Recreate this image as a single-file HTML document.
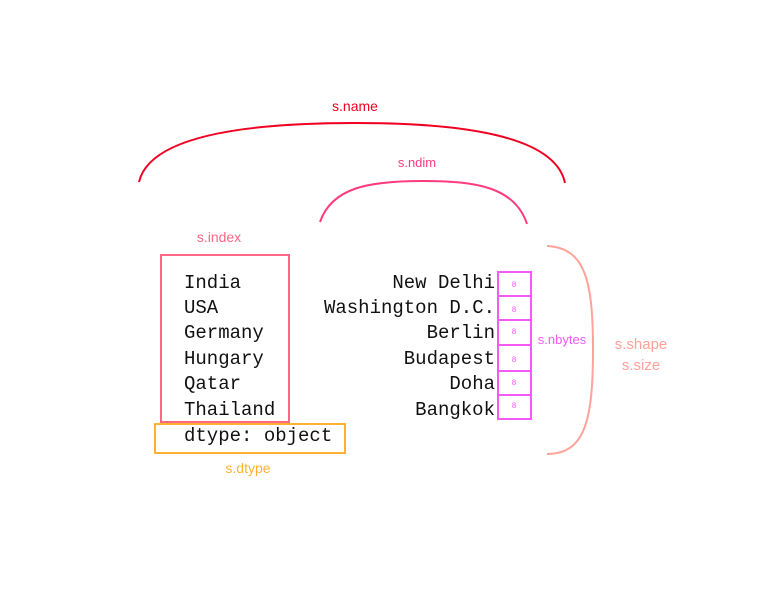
<!DOCTYPE html>
<html><head><meta charset="utf-8"><style>html,body{margin:0;padding:0;background:#fff;width:763px;height:600px;overflow:hidden}</style></head>
<body>
<svg width="763" height="600" viewBox="0 0 763 600" xmlns="http://www.w3.org/2000/svg">
<g fill="none" stroke-width="2">
<path d="M139,182 C150,135 250,123 355,123 C460,123 555,135 565,183" stroke="#f00020"/>
<path d="M320,222 C332,187 370,181 423,181 C476,181 515,187 527,224" stroke="#ff3b7f"/>
<path d="M547,246 C585,248 593,280 593,350 C593,420 585,454 547,454" stroke="#ffa39a"/>
<rect x="161" y="255" width="128" height="167" stroke="#ff6688"/>
<rect x="155" y="424" width="190" height="29" stroke="#ffb232"/>
<g stroke="#f55af5">
<rect x="498" y="272" width="33" height="147"/>
<line x1="498" y1="296" x2="531" y2="296"/>
<line x1="498" y1="320" x2="531" y2="320"/>
<line x1="498" y1="345" x2="531" y2="345"/>
<line x1="498" y1="371" x2="531" y2="371"/>
<line x1="498" y1="395" x2="531" y2="395"/>
</g>
</g>
<g font-family="Liberation Mono, monospace" font-size="19" fill="#111">
<text x="184" y="288">India</text>
<text x="184" y="313">USA</text>
<text x="184" y="338">Germany</text>
<text x="184" y="364">Hungary</text>
<text x="184" y="389">Qatar</text>
<text x="184" y="415">Thailand</text>
<text x="184" y="441">dtype: object</text>
<g text-anchor="end">
<text x="495" y="288">New Delhi</text>
<text x="495" y="313">Washington D.C.</text>
<text x="495" y="338">Berlin</text>
<text x="495" y="364">Budapest</text>
<text x="495" y="389">Doha</text>
<text x="495" y="415">Bangkok</text>
</g>
</g>
<g font-family="Liberation Mono, monospace" font-size="8" fill="#f55af5" text-anchor="middle">
<text x="514" y="287">8</text>
<text x="514" y="312">8</text>
<text x="514" y="334">8</text>
<text x="514" y="362">8</text>
<text x="514" y="385">8</text>
<text x="514" y="408">8</text>
</g>
<g font-family="Liberation Sans, sans-serif" font-size="14" text-anchor="middle">
<text x="355" y="111" fill="#f00020">s.name</text>
<text x="417" y="167" fill="#ff3b7f" font-size="13">s.ndim</text>
<text x="219" y="242" fill="#ff6688">s.index</text>
<text x="248" y="473" fill="#ffb232">s.dtype</text>
<text x="562" y="344" fill="#f55af5" font-size="13">s.nbytes</text>
<text x="641" y="349" fill="#ffa39a" font-size="15">s.shape</text>
<text x="641" y="370" fill="#ffa39a" font-size="15">s.size</text>
</g>
</svg>
</body></html>
